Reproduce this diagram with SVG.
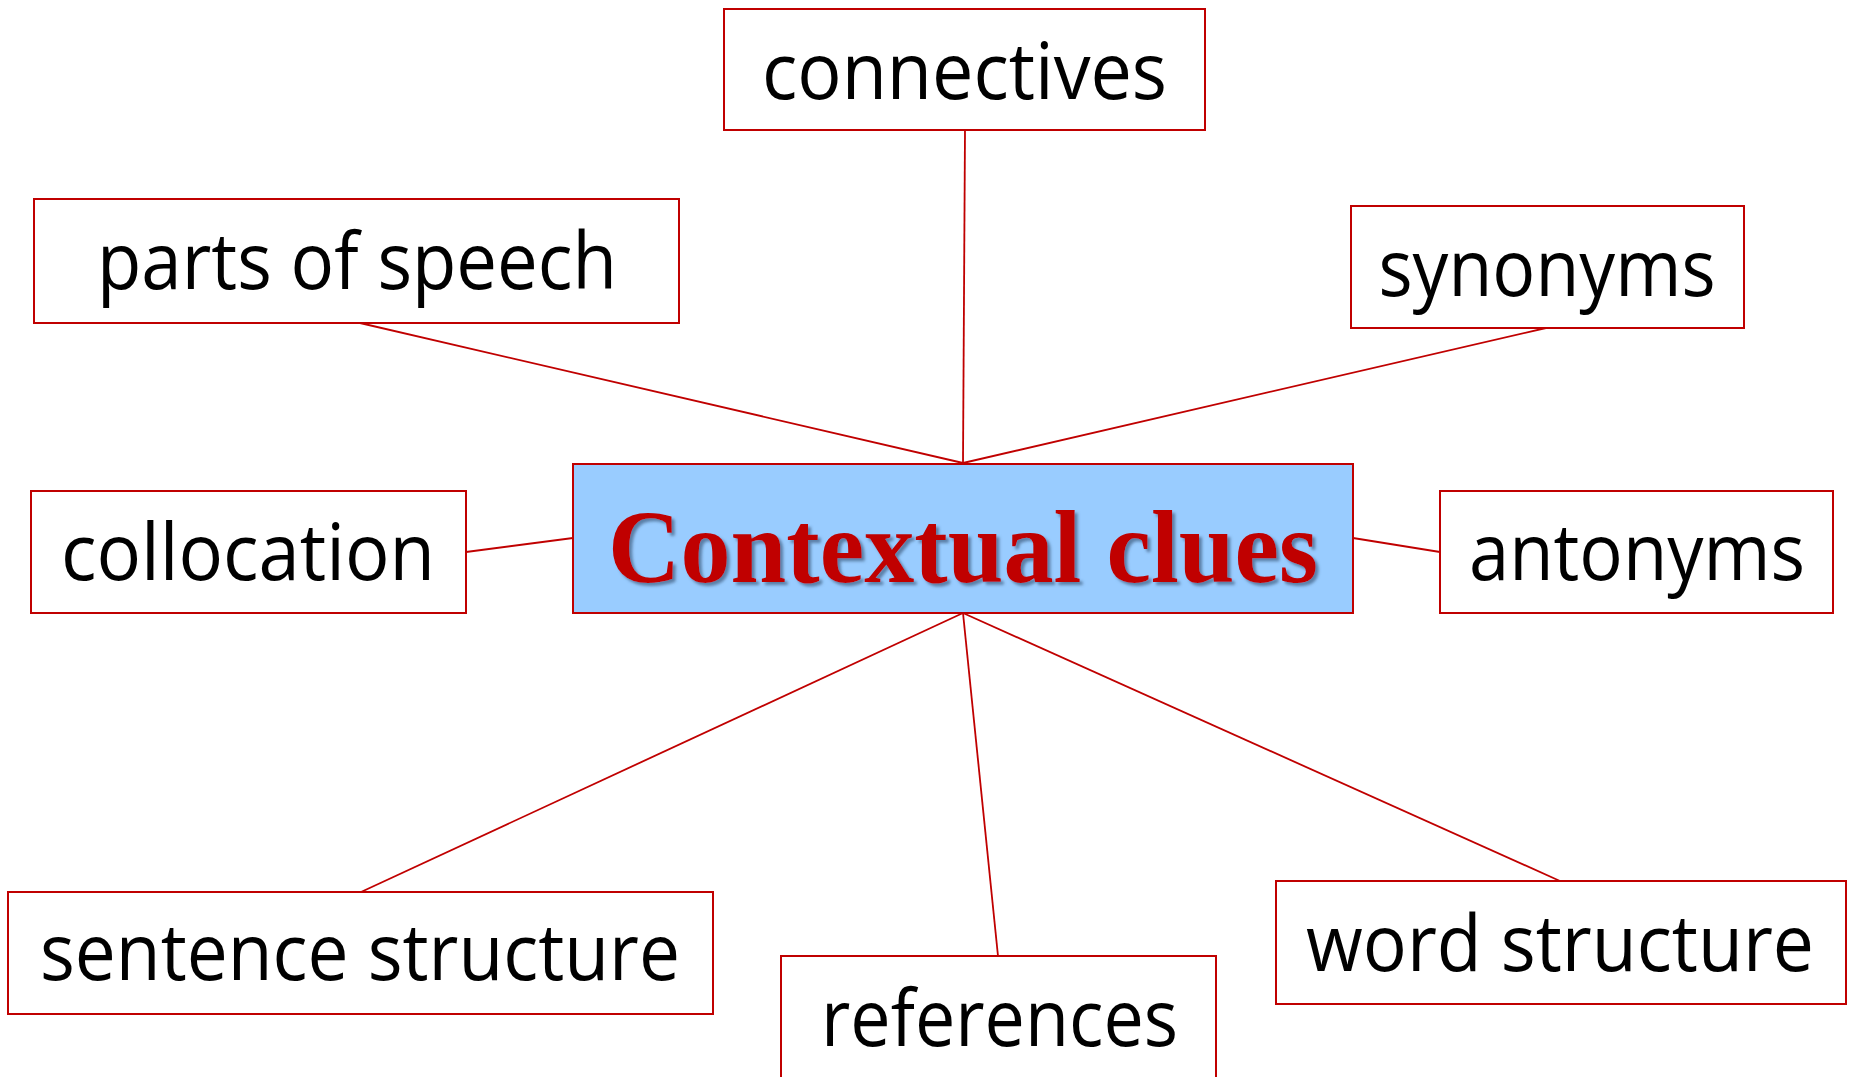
<svg xmlns="http://www.w3.org/2000/svg" width="1849" height="1077" viewBox="0 0 1849 1077">
<style>
.box{fill:#FFFFFF;stroke:#C00000;stroke-width:2}
.lbl{font-family:"Open Sans","Noto Sans","Liberation Sans",sans-serif;font-size:78px;fill:#000000;text-anchor:middle}
.conn line{stroke:#C00000;stroke-width:1.8}
.title{font-family:"Liberation Serif","Times New Roman",serif;font-weight:bold;font-size:104px;text-anchor:middle}
</style>
<defs>
<filter id="shadow" x="-5%" y="-20%" width="110%" height="140%">
<feDropShadow dx="3" dy="3" stdDeviation="1.5" flood-color="#3f5f80" flood-opacity="0.7"/>
</filter>
</defs>
<rect width="1849" height="1077" fill="#FFFFFF"/>
<g id="connectors" class="conn">
<line x1="965" y1="130" x2="963" y2="463"/>
<line x1="360" y1="323" x2="963" y2="463"/>
<line x1="1546" y1="328" x2="963" y2="463"/>
<line x1="466" y1="552" x2="573" y2="538"/>
<line x1="1353" y1="538" x2="1440" y2="552"/>
<line x1="361" y1="892" x2="963" y2="613"/>
<line x1="998" y1="956" x2="963" y2="613"/>
<line x1="1560" y1="881" x2="963" y2="613"/>
</g>
<g id="center">
<rect x="573" y="464" width="780" height="149" fill="#99CCFF" stroke="#C00000" stroke-width="2"/>
<text class="title" x="963" y="582" fill="#C00000" filter="url(#shadow)" textLength="710" lengthAdjust="spacingAndGlyphs">Contextual clues</text>
</g>
<g id="connectives">
<rect class="box" x="724" y="9" width="481" height="121"/>
<text class="lbl" x="964.5" y="99" textLength="405" lengthAdjust="spacingAndGlyphs">connectives</text>
</g>
<g id="parts-of-speech">
<rect class="box" x="34" y="199" width="645" height="124"/>
<text class="lbl" x="357" y="289" textLength="520" lengthAdjust="spacingAndGlyphs">parts of speech</text>
</g>
<g id="synonyms">
<rect class="box" x="1351" y="206" width="393" height="122"/>
<text class="lbl" x="1547" y="296" textLength="337" lengthAdjust="spacingAndGlyphs">synonyms</text>
</g>
<g id="collocation">
<rect class="box" x="31" y="491" width="435" height="122"/>
<text class="lbl" x="248" y="580" textLength="374" lengthAdjust="spacingAndGlyphs">collocation</text>
</g>
<g id="antonyms">
<rect class="box" x="1440" y="491" width="393" height="122"/>
<text class="lbl" x="1637" y="580" textLength="336" lengthAdjust="spacingAndGlyphs">antonyms</text>
</g>
<g id="sentence-structure">
<rect class="box" x="8" y="892" width="705" height="122"/>
<text class="lbl" x="360" y="980" textLength="640" lengthAdjust="spacingAndGlyphs">sentence structure</text>
</g>
<g id="references">
<rect class="box" x="781" y="956" width="435" height="140"/>
<text class="lbl" x="999.5" y="1046" textLength="357" lengthAdjust="spacingAndGlyphs">references</text>
</g>
<g id="word-structure">
<rect class="box" x="1276" y="881" width="570" height="123"/>
<text class="lbl" x="1560" y="971" textLength="508" lengthAdjust="spacingAndGlyphs">word structure</text>
</g>
</svg>
